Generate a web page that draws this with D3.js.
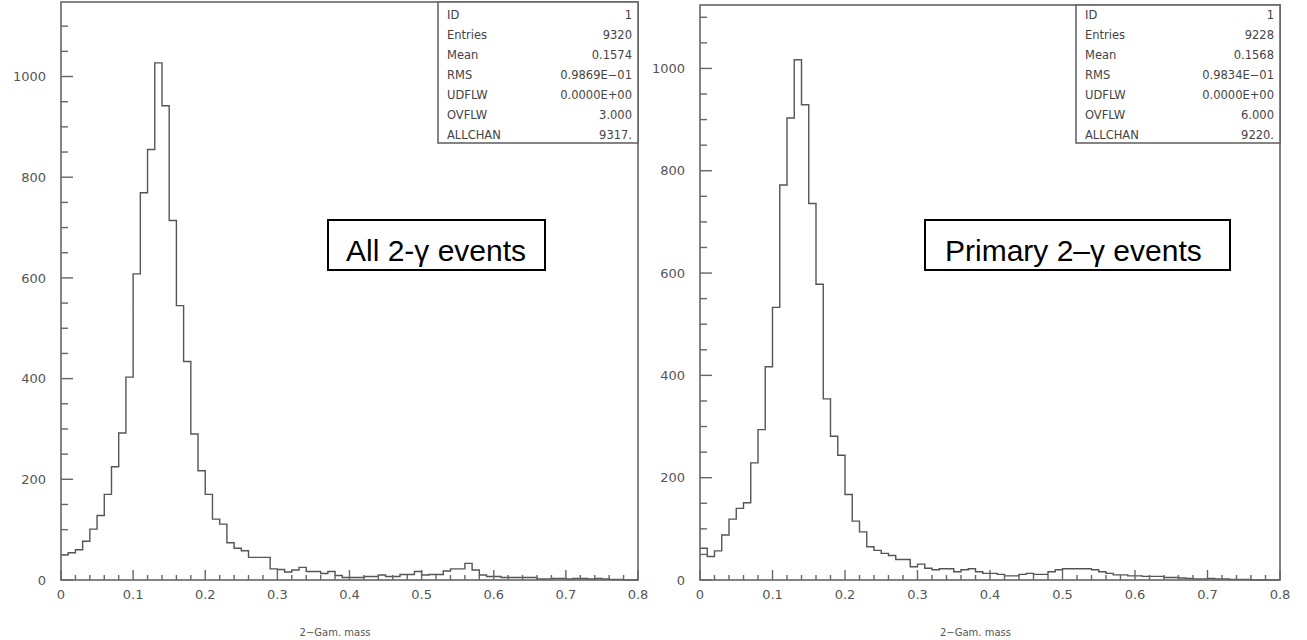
<!DOCTYPE html>
<html>
<head>
<meta charset="utf-8">
<script src="https://cdn.jsdelivr.net/npm/d3@7"></script>
<style>
  body { margin: 0; background: #fff; }
  svg { display: block; }
  .tick-label { font-family: "DejaVu Sans", sans-serif; font-size: 13px; fill: #555; }
  .stat { font-family: "DejaVu Sans", sans-serif; font-size: 11.5px; fill: #444; }
  .title { font-family: "DejaVu Sans", sans-serif; font-size: 10px; fill: #555; }
  .note { font-family: "Liberation Sans", Arial, sans-serif; font-size: 30px; fill: #000; }
</style>
</head>
<body>
<svg width="1307" height="640"></svg>
<script>
// counts per 0.01 bin, 0 .. 0.8
const allCounts = [
  50, 54, 60, 77, 101, 128, 170, 225, 292, 403,
  608, 769, 855, 1027, 942, 714, 545, 434, 290, 217,
  170, 121, 111, 74, 63, 58, 45, 45, 45, 22,
  21, 16, 20, 25, 17, 17, 13, 17, 9, 5,
  5, 5, 7, 7, 10, 7, 7, 11, 11, 17,
  10, 11, 11, 18, 22, 22, 33, 20, 10, 7,
  7, 5, 5, 5, 5, 5, 2, 2, 3, 3,
  2, 3, 3, 2, 3, 2, 1, 1, 0, 0
];
const primaryCounts = [
  62, 46, 57, 88, 119, 140, 151, 229, 294, 417,
  533, 772, 903, 1017, 929, 736, 578, 354, 281, 244,
  167, 115, 94, 65, 58, 52, 48, 40, 40, 26,
  31, 23, 20, 22, 22, 16, 20, 22, 16, 13,
  13, 11, 8, 8, 11, 13, 11, 11, 16, 20,
  22, 22, 22, 22, 20, 16, 13, 10, 10, 8,
  8, 7, 7, 7, 5, 5, 4, 3, 2, 2,
  3, 2, 2, 1, 1, 1, 0, 0, 0, 0
];
const binWidth = 0.01;
const xTickLabels = ["0", "0.1", "0.2", "0.3", "0.4", "0.5", "0.6", "0.7", "0.8"];
const yTickLabels = ["0", "200", "400", "600", "800", "1000"];
const statNames = ["ID", "Entries", "Mean", "RMS", "UDFLW", "OVFLW", "ALLCHAN"];
const allStats = ["1", "9320", "0.1574", "0.9869E\u221201", "0.0000E+00", "3.000", "9317."];
const primaryStats = ["1", "9228", "0.1568", "0.9834E\u221201", "0.0000E+00", "6.000", "9220."];

const svg = d3.select("svg");
const ink = "#555";

function panel(cfg) {
  const g = svg.append("g");
  const x = d3.scaleLinear().domain([0, 0.8]).range([cfg.left, cfg.right]);
  const y = d3.scaleLinear().domain([0, cfg.yMax]).range([cfg.bottom, cfg.top]);

  // histogram as step line
  const pts = cfg.counts.map((c, i) => [i * binWidth, c]);
  pts.push([cfg.counts.length * binWidth, cfg.counts[cfg.counts.length - 1]]);
  const line = d3.line().x(d => x(d[0])).y(d => y(d[1])).curve(d3.curveStepAfter);
  g.append("path").attr("d", line(pts))
    .attr("fill", "none").attr("stroke", ink).attr("stroke-width", 1.4);

  // frame
  g.append("rect")
    .attr("x", cfg.left).attr("y", cfg.top)
    .attr("width", cfg.right - cfg.left).attr("height", cfg.bottom - cfg.top)
    .attr("fill", "none").attr("stroke", "#666").attr("stroke-width", 1.6);

  // y ticks, inward
  d3.range(0, cfg.yMax, 50).forEach(v => {
    const major = v % 200 === 0;
    g.append("line").attr("x1", cfg.left).attr("x2", cfg.left + (major ? 12 : 7))
      .attr("y1", y(v)).attr("y2", y(v)).attr("stroke", "#666").attr("stroke-width", 1.4);
  });
  yTickLabels.forEach(t => {
    g.append("text").attr("class", "tick-label")
      .attr("x", cfg.left - 15).attr("y", y(+t)).attr("dy", "0.36em")
      .attr("text-anchor", "end").text(t);
  });

  // x ticks, inward
  d3.range(0, 41).forEach(k => {
    const v = k * 0.02;
    const major = k % 5 === 0;
    g.append("line").attr("x1", x(v)).attr("x2", x(v))
      .attr("y1", cfg.bottom).attr("y2", cfg.bottom - (major ? 10 : 5))
      .attr("stroke", "#666").attr("stroke-width", 1.4);
  });
  xTickLabels.forEach(t => {
    g.append("text").attr("class", "tick-label")
      .attr("x", x(+t)).attr("y", cfg.bottom + 19)
      .attr("text-anchor", "middle").text(t);
  });

  g.append("text").attr("class", "title")
    .attr("x", x(0.38)).attr("y", 636).attr("text-anchor", "middle")
    .text("2\u2212Gam. mass");

  // stats box
  g.append("rect")
    .attr("x", cfg.boxLeft).attr("y", cfg.top)
    .attr("width", cfg.right - cfg.boxLeft).attr("height", 143 - cfg.top)
    .attr("fill", "#fff").attr("stroke", "#666").attr("stroke-width", 1.6);
  statNames.forEach((n, i) => {
    const yy = 19 + i * 20;
    g.append("text").attr("class", "stat").attr("x", cfg.boxLeft + 9).attr("y", yy).text(n);
    g.append("text").attr("class", "stat").attr("x", cfg.right - 6).attr("y", yy)
      .attr("text-anchor", "end").text(cfg.stats[i]);
  });

  // annotation box
  g.append("rect")
    .attr("x", cfg.note.x).attr("y", 220).attr("width", cfg.note.w).attr("height", 50)
    .attr("fill", "#fff").attr("stroke", "#000").attr("stroke-width", 2);
  g.append("text").attr("class", "note")
    .attr("x", cfg.note.tx).attr("y", 261)
    .text(cfg.note.text);
}

panel({
  counts: allCounts, stats: allStats,
  left: 61, right: 638, top: 2, bottom: 580, yMax: 1148, boxLeft: 438,
  note: { x: 328, w: 217, tx: 346, text: "All 2-\u03b3 events" }
});
panel({
  counts: primaryCounts, stats: primaryStats,
  left: 700, right: 1280, top: 5, bottom: 580, yMax: 1124, boxLeft: 1076,
  note: { x: 925, w: 305, tx: 945, text: "Primary 2\u2013\u03b3  events" }
});
</script>
</body>
</html>
